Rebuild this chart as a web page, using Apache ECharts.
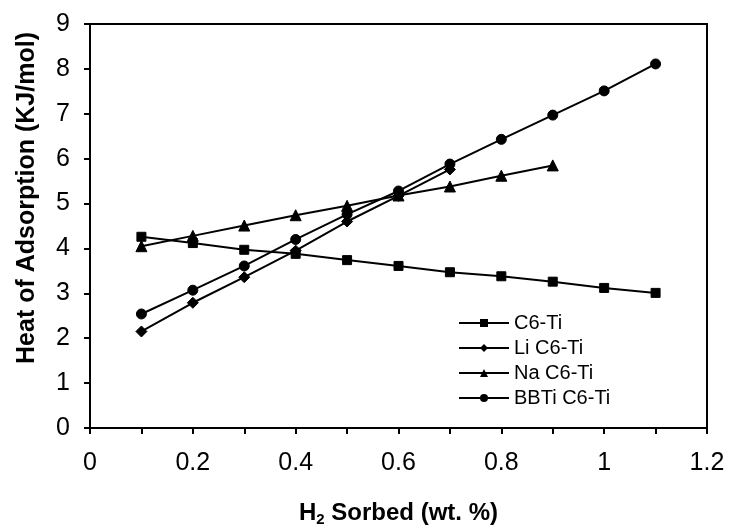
<!DOCTYPE html>
<html>
<head>
<meta charset="utf-8">
<script src="https://cdn.jsdelivr.net/npm/echarts@6/dist/echarts.min.js"></script>
<style>
html,body{margin:0;padding:0;background:#fff;}
#chart{width:731px;height:530px;}
</style>
</head>
<body>
<div id="chart"></div>
<script>
var xValues = [0.1, 0.2, 0.3, 0.4, 0.5, 0.6, 0.7, 0.8, 0.9, 1.0, 1.1];
var seriesNames = ['C6-Ti', 'Li C6-Ti', 'Na C6-Ti', 'BBTi C6-Ti'];
var c6Ti = [4.26, 4.12, 3.97, 3.88, 3.74, 3.61, 3.47, 3.38, 3.26, 3.12, 3.01];
var liC6Ti = [2.15, 2.79, 3.36, 3.95, 4.60, 5.17, 5.76];
var naC6Ti = [4.05, 4.28, 4.51, 4.74, 4.95, 5.18, 5.38, 5.62, 5.85];
var bbtiC6Ti = [2.54, 3.07, 3.61, 4.20, 4.76, 5.28, 5.88, 6.43, 6.97, 7.51, 8.11];
var xTitle = 'H{sub|2} Sorbed (wt. %)';
var yTitle = 'Heat of Adsorption (KJ/mol)';

function pairs(vals) {
  return vals.map(function (v, i) { return [xValues[i], v]; });
}

var font = 'Liberation Sans, Arial, sans-serif';
var symbols = ['rect', 'diamond', 'triangle', 'circle'];
var sizes = [9, 11, 11, 10];
var allData = [c6Ti, liC6Ti, naC6Ti, bbtiC6Ti];

var chart = echarts.init(document.getElementById('chart'), null, {renderer: 'canvas'});
chart.setOption({
  backgroundColor: '#fff',
  animation: false,
  textStyle: {fontFamily: font, color: '#000'},
  grid: {left: 90, right: 24, top: 24, bottom: 102, containLabel: false, outerBoundsMode: 'none',
    show: true, borderColor: '#000', borderWidth: 2, backgroundColor: 'transparent'},
  legend: {
    orient: 'vertical', left: 453, top: 308, itemGap: 5,
    itemWidth: 50, itemHeight: 10,
    textStyle: {fontFamily: font, fontSize: 20, color: '#000'},
    data: seriesNames
  },
  graphic: [{
    type: 'text', x: 27, y: 198, rotation: Math.PI / 2,
    style: {text: yTitle, fill: '#000', font: 'bold 25px ' + font, align: 'center', verticalAlign: 'middle'}
  }],
  xAxis: {
    type: 'value', min: 0, max: 1.2, interval: 0.2,
    axisLine: {show: true, onZero: false, lineStyle: {color: '#000', width: 2}},
    axisTick: {show: true, inside: false, length: 6, lineStyle: {color: '#000', width: 2}},
    minorTick: {show: true, splitNumber: 2, length: 6, lineStyle: {color: '#000', width: 2}},
    splitLine: {show: false},
    axisLabel: {fontFamily: font, fontSize: 25, color: '#000', margin: 23,
      formatter: function (v) { return String(Math.round(v * 10) / 10); }},
    name: xTitle, nameLocation: 'middle', nameGap: 72,
    nameTextStyle: {fontFamily: font, fontSize: 24, fontWeight: 'bold', color: '#000',
      rich: {sub: {fontFamily: font, fontSize: 15, fontWeight: 'bold', color: '#000', verticalAlign: 'bottom', padding: [12, 0, 0, 0]}}}
  },
  yAxis: {
    type: 'value', min: 0, max: 9, interval: 1,
    axisLine: {show: true, lineStyle: {color: '#000', width: 2}},
    axisTick: {show: true, inside: false, length: 6, lineStyle: {color: '#000', width: 2}},
    splitLine: {show: false},
    axisLabel: {fontFamily: font, fontSize: 25, color: '#000', margin: 20}
  },
  series: seriesNames.map(function (n, i) {
    return {
      name: n, type: 'line', data: pairs(allData[i]),
      symbol: symbols[i], symbolSize: sizes[i], showSymbol: true,
      lineStyle: {color: '#000', width: 2},
      itemStyle: {color: '#000', borderColor: '#000'},
      z: 2
    };
  })
});
</script>
</body>
</html>
